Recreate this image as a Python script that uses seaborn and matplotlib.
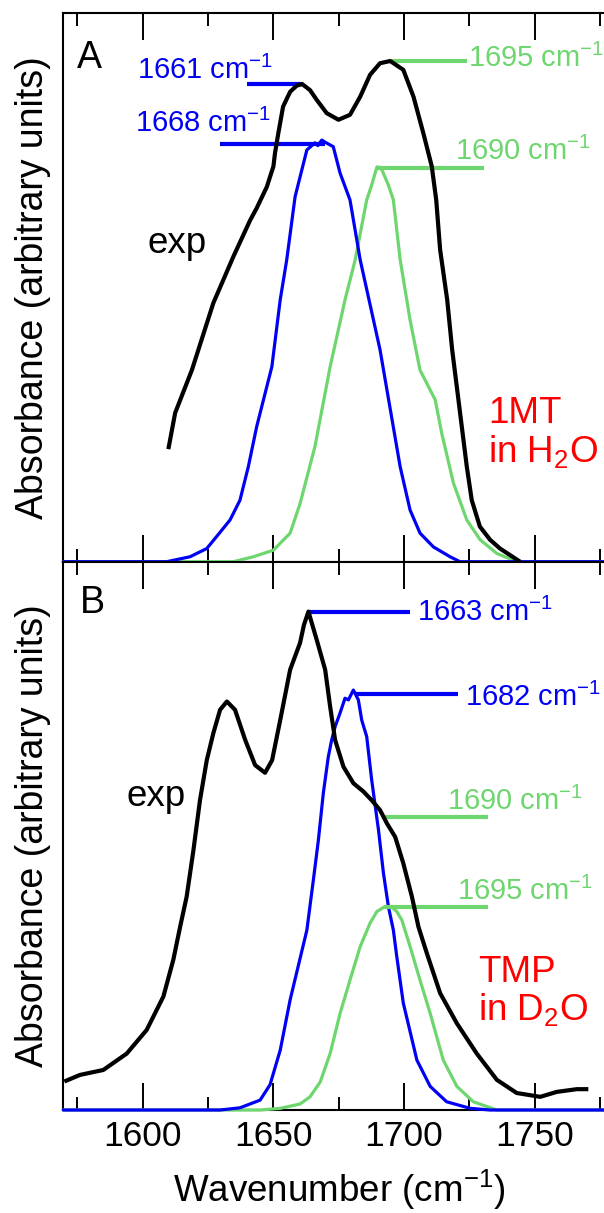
import matplotlib
matplotlib.use("Agg")
import matplotlib.pyplot as plt
import seaborn as sns
import pandas as pd
import numpy as np

# ---------------- data ----------------
# Panel A (1MT in H2O)
a_exp_wn = [1609.8, 1612.4, 1618.8, 1627.0, 1634.7, 1641.1, 1643.6, 1647.5, 1648.7, 1650.0,
            1650.6, 1651.9, 1653.7, 1656.4, 1658.9, 1661.0, 1664.0, 1666.6, 1670.4, 1674.9,
            1679.3, 1683.2, 1687.0, 1690.8, 1694.7, 1699.7, 1703.6, 1707.4, 1710.6, 1712.3,
            1713.8, 1716.5, 1718.4, 1720.8, 1724.0, 1725.9, 1729.0, 1732.9, 1736.7, 1744.4]
a_exp_ab = [0.205, 0.271, 0.349, 0.471, 0.556, 0.622, 0.644, 0.683, 0.701, 0.720,
            0.744, 0.781, 0.829, 0.856, 0.867, 0.870, 0.859, 0.841, 0.817, 0.805,
            0.814, 0.847, 0.887, 0.908, 0.912, 0.896, 0.847, 0.780, 0.720, 0.659,
            0.568, 0.477, 0.386, 0.295, 0.173, 0.112, 0.064, 0.040, 0.024, 0.0]

a_blue_wn = [1569.6, 1609.2, 1618.1, 1624.5, 1628.3, 1633.4, 1637.2, 1640.4, 1643.6, 1646.2,
             1649.4, 1652.6, 1655.1, 1658.3, 1662.8, 1665.9, 1667.0, 1668.5, 1670.2, 1672.9,
             1675.5, 1679.3, 1683.2, 1690.8, 1698.5, 1702.3, 1706.1, 1711.2, 1717.6, 1721.4, 1776.5]
a_blue_ab = [0.0, 0.0, 0.009, 0.024, 0.046, 0.076, 0.112, 0.173, 0.246, 0.295,
             0.355, 0.477, 0.550, 0.665, 0.750, 0.763, 0.758, 0.768, 0.763, 0.756,
             0.708, 0.659, 0.550, 0.386, 0.173, 0.094, 0.052, 0.027, 0.009, 0.0, 0.0]

a_green_wn = [1569.6, 1634.7, 1642.3, 1650.0, 1656.4, 1660.2, 1665.9, 1671.7, 1677.4, 1681.3,
              1685.7, 1687.6, 1689.6, 1690.1, 1691.5, 1694.0, 1695.9, 1698.5, 1702.3, 1706.1,
              1711.9, 1714.4, 1718.9, 1724.0, 1729.1, 1735.5, 1743.1, 1776.5]
a_green_ab = [0.0, 0.0, 0.009, 0.021, 0.052, 0.106, 0.210, 0.355, 0.477, 0.550,
              0.659, 0.686, 0.719, 0.719, 0.714, 0.686, 0.659, 0.550, 0.440, 0.349,
              0.295, 0.234, 0.143, 0.076, 0.040, 0.015, 0.0, 0.0]

# Panel B (TMP in D2O)
b_exp_wn = [1570.0, 1576.0, 1584.9, 1593.9, 1601.5, 1607.9, 1611.7, 1614.3, 1616.8, 1619.4,
            1621.9, 1624.5, 1627.0, 1629.6, 1632.2, 1635.3, 1639.2, 1643.0, 1646.8, 1649.5,
            1652.6, 1656.4, 1660.2, 1661.7, 1663.4, 1666.6, 1669.8, 1671.7, 1673.6, 1676.8,
            1680.6, 1684.4, 1687.6, 1690.8, 1693.4, 1696.6, 1699.7, 1703.0, 1705.5, 1708.7,
            1713.8, 1720.2, 1727.8, 1735.5, 1743.1, 1752.1, 1758.4, 1766.1, 1770.5]
b_exp_ab = [0.052, 0.064, 0.073, 0.103, 0.146, 0.207, 0.274, 0.334, 0.389, 0.474,
            0.565, 0.638, 0.687, 0.730, 0.745, 0.730, 0.675, 0.629, 0.615, 0.638,
            0.711, 0.803, 0.852, 0.885, 0.909, 0.857, 0.803, 0.736, 0.675, 0.626,
            0.596, 0.581, 0.565, 0.547, 0.523, 0.498, 0.450, 0.389, 0.334, 0.286,
            0.213, 0.158, 0.103, 0.055, 0.031, 0.024, 0.033, 0.038, 0.038]

b_blue_wn = [1569.6, 1629.6, 1637.2, 1644.9, 1648.7, 1652.6, 1656.4, 1662.8, 1665.3, 1667.2,
             1669.1, 1671.0, 1672.3, 1673.6, 1675.5, 1677.4, 1678.7, 1680.6, 1682.5, 1683.8,
             1685.7, 1687.6, 1690.2, 1692.1, 1694.0, 1695.9, 1697.2, 1699.7, 1704.9, 1710.0,
             1716.3, 1725.3, 1732.9, 1776.5]
b_blue_ab = [0.0, 0.0, 0.004, 0.018, 0.046, 0.109, 0.201, 0.328, 0.420, 0.492,
             0.578, 0.644, 0.675, 0.699, 0.724, 0.751, 0.748, 0.766, 0.748, 0.711,
             0.681, 0.602, 0.511, 0.432, 0.371, 0.328, 0.280, 0.195, 0.091, 0.043,
             0.015, 0.003, 0.0, 0.0]

b_green_wn = [1569.6, 1644.9, 1652.6, 1660.2, 1664.0, 1667.9, 1671.7, 1675.5, 1679.3, 1683.2,
              1687.0, 1689.6, 1692.7, 1695.0, 1697.2, 1699.1, 1702.3, 1706.1, 1710.0, 1715.0,
              1720.2, 1726.5, 1735.5, 1776.5]
b_green_ab = [0.0, 0.0, 0.003, 0.011, 0.024, 0.051, 0.103, 0.176, 0.237, 0.298,
              0.341, 0.362, 0.371, 0.371, 0.362, 0.347, 0.298, 0.237, 0.176, 0.091,
              0.043, 0.015, 0.0, 0.0]

# peak annotations: (label, line start, line end, line y, text x, text y, colour)
a_marks = [("1661", 1639.8, 1661.0, 0.871, 1597.7, 0.879, "blue"),
           ("1668", 1629.6, 1669.8, 0.761, 1597.0, 0.783, "blue"),
           ("1695", 1695.3, 1724.0, 0.912, 1724.6, 0.902, "green"),
           ("1690", 1689.6, 1730.4, 0.718, 1719.5, 0.732, "green")]
b_marks = [("1663", 1663.4, 1702.3, 0.909, 1704.9, 0.892, "blue"),
           ("1682", 1681.3, 1720.8, 0.758, 1723.3, 0.736, "blue"),
           ("1690", 1692.1, 1732.3, 0.535, 1716.3, 0.547, "green"),
           ("1695", 1692.7, 1732.3, 0.371, 1720.2, 0.383, "green")]

major_ticks = [1600, 1650, 1700, 1750]
minor_ticks = [1575, 1625, 1675, 1725, 1775]

# ---------------- style ----------------
sns.set_style("ticks")
plt.rcParams['font.family'] = ['Liberation Sans', 'DejaVu Sans']
plt.rcParams['mathtext.fontset'] = 'custom'
plt.rcParams['mathtext.rm'] = 'Liberation Sans'
plt.rcParams['mathtext.it'] = 'Liberation Sans:italic'
plt.rcParams['mathtext.bf'] = 'Liberation Sans:bold'
plt.rcParams['text.color'] = 'black'
plt.rcParams['axes.labelcolor'] = 'black'
plt.rcParams['xtick.color'] = 'black'
plt.rcParams['ytick.color'] = 'black'
plt.rcParams['axes.edgecolor'] = 'black'

BLUE = "#0000F5"
GREEN = "#6ED66E"
RED = "#FF0000"
COLS = {"blue": BLUE, "green": GREEN}

W, H = 604, 1213
fig = plt.figure(figsize=(W / 100, H / 100), dpi=100)
left = 63.3 / W
width = (W - 63.3) / W
axA = fig.add_axes([left, 1 - 561.7 / H, width, 549.0 / H])
axB = fig.add_axes([left, 1 - 1110.0 / H, width, 548.3 / H])

XMIN, XMAX = 1569.6, 1776.5


def sup(lab):
    return lab + r" cm$^{\mathrm{-1}}$"


def draw(ax, exp_wn, exp_ab, bl_wn, bl_ab, gr_wn, gr_ab, marks):
    dfb = pd.DataFrame({"wn": bl_wn, "ab": bl_ab})
    dfg = pd.DataFrame({"wn": gr_wn, "ab": gr_ab})
    dfe = pd.DataFrame({"wn": exp_wn, "ab": exp_ab})
    sns.lineplot(data=dfg, x="wn", y="ab", ax=ax, color=GREEN, lw=2.3,
                 estimator=None, sort=False, clip_on=False, zorder=3,
                 solid_joinstyle='round')
    sns.lineplot(data=dfb, x="wn", y="ab", ax=ax, color=BLUE, lw=2.3,
                 estimator=None, sort=False, clip_on=False, zorder=4,
                 solid_joinstyle='round')
    for lab, x0, x1, y, tx, ty, c in marks:
        ax.plot([x0, x1], [y, y], color=COLS[c], lw=3.0, solid_capstyle='butt', zorder=5)
        ax.text(tx, ty, sup(lab), color=COLS[c], fontsize=21,
                ha='left', va='baseline', zorder=6)
    sns.lineplot(data=dfe, x="wn", y="ab", ax=ax, color="black", lw=3.0,
                 estimator=None, sort=False, clip_on=False, zorder=6,
                 solid_joinstyle='round', solid_capstyle='butt')
    ax.set_xlim(XMIN, XMAX)
    ax.set_ylim(0, 1)
    ax.set_xticks(major_ticks)
    ax.set_xticks(minor_ticks, minor=True)
    ax.set_yticks([])
    ax.tick_params(axis='x', which='major', direction='in', length=19.5, width=1.4,
                   top=True, bottom=True, labelsize=25.5, pad=7, colors='black')
    ax.tick_params(axis='x', which='minor', direction='in', length=9.7, width=1.4,
                   top=True, bottom=True, colors='black')
    for s in ['left', 'top', 'bottom']:
        ax.spines[s].set_linewidth(1.5)
        ax.spines[s].set_color('black')
    ax.spines['right'].set_visible(False)
    ax.set_xlabel("")
    ax.set_ylabel("Absorbance (arbitrary units)", fontsize=27, color='black')
    ax.yaxis.set_label_coords(-0.022, 0.5)


draw(axA, a_exp_wn, a_exp_ab, a_blue_wn, a_blue_ab, a_green_wn, a_green_ab, a_marks)
draw(axB, b_exp_wn, b_exp_ab, b_blue_wn, b_blue_ab, b_green_wn, b_green_ab, b_marks)
axA.tick_params(axis='x', labelbottom=False)

# panel letters and labels
axA.text(1574.9, 0.899, "A", fontsize=27, ha='left', va='baseline')
axB.text(1576.0, 0.906, "B", fontsize=27, ha='left', va='baseline')
axA.text(1602.0, 0.562, "exp", fontsize=26.5, ha='left', va='baseline')
axB.text(1593.9, 0.554, "exp", fontsize=26.5, ha='left', va='baseline')
axA.text(1732.3, 0.253, "1MT", fontsize=26.5, color=RED, ha='left', va='baseline')
axA.text(1732.3, 0.182, r"in H$_{\mathrm{2}}$O", fontsize=26.5, color=RED, ha='left', va='baseline')
axB.text(1728.4, 0.234, "TMP", fontsize=26.5, color=RED, ha='left', va='baseline')
axB.text(1728.4, 0.164, r"in D$_{\mathrm{2}}$O", fontsize=26.5, color=RED, ha='left', va='baseline')

fig.text(339 / W, 1 - 1202 / H, r"Wavenumber (cm$^{\mathrm{-1}}$)", fontsize=26.5,
         ha='center', va='baseline', color='black')

fig.savefig("out.png", dpi=100)
